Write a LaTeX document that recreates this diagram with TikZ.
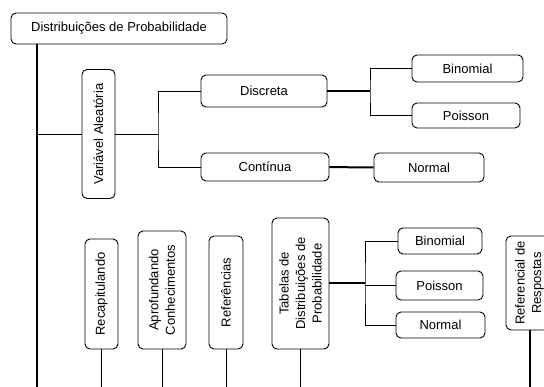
\documentclass[tikz,border=0pt]{standalone}
\usepackage{fontspec}
\setmainfont{Liberation Sans}
\usepackage{tikz}

\begin{document}
\begin{tikzpicture}[x=1pt,y=-1pt,line width=0.9pt,font=\fontsize{13}{16.5}\selectfont]
                  \tikzstyle{box}=[draw,rounded corners=5pt,inner sep=0pt,align=center]
                  \tikzstyle{vbox}=[box,rotate=90]
                  \tikzstyle{bold}=[line width=2pt]
                  \useasboundingbox (0,0) rectangle (544,387);

                  \node[box,minimum width=216pt,minimum height=31pt]  (dist)  at (119,28.5)   {Distribuições de Probabilidade};
                  \node[vbox,minimum width=129pt,minimum height=33pt] (va)    at (98.5,134)   {Variável Aleatória};
                  \node[box,minimum width=126pt,minimum height=32pt]  (disc)  at (264,91)     {Discreta};
                  \node[box,minimum width=128pt,minimum height=28pt]  (cont)  at (265,167)    {Contínua};
                  \node[box,minimum width=111pt,minimum height=27pt]  (bin)   at (467.5,68.5) {Binomial};
                  \node[box,minimum width=108pt,minimum height=25pt]  (poi)   at (466,115.5)  {Poisson};
                  \node[box,minimum width=110pt,minimum height=29pt]  (nor)   at (429,167.5)  {Normal};

                  \node[vbox,minimum width=110pt,minimum height=33pt] (recap) at (101.5,294)  {Recapitulando};
                  \node[vbox,minimum width=118pt,minimum height=48pt] (aprof) at (162,290)    {Aprofundando\\Conhecimentos};
                  \node[vbox,minimum width=113pt,minimum height=34pt] (refs)  at (226,292.5)  {Referências};
                  \node[vbox,minimum width=131pt,minimum height=57pt] (tab)   at (300.5,283.5) {Tabelas de\\Distribuições de\\Probabilidade};
                  \node[box,minimum width=84pt,minimum height=26pt]   (tbin)  at (440,241)    {Binomial};
                  \node[box,minimum width=87pt,minimum height=29pt]   (tpoi)  at (439.5,285.5) {Poisson};
                  \node[box,minimum width=89pt,minimum height=26pt]   (tnor)  at (440.5,325)  {Normal};
                  \node[vbox,minimum width=94pt,minimum height=47pt]  (resp)  at (529.5,283)  {Referencial de\\Respostas};

                  \coordinate (trunk) at (37,395);
                  \coordinate (j1) at (158,134);
                  \coordinate (j2) at (370,91);
                  \coordinate (j3) at (365,283.5);

                  \draw[bold] (dist.south -| trunk) -- (trunk);
                  \draw (va -| trunk) -- (va);
                  \draw (va) -- (j1);
                  \draw (disc) -| (j1) |- (cont);
                  \draw[bold] (disc) -- (j2);
                  \draw (bin) -| (j2) |- (poi);
                  \draw[bold] (cont) -- (nor);

                  \draw[bold] (tab) -- (j3);
                  \draw (tbin) -| (j3) |- (tnor);
                  \draw (tpoi) -- (tpoi -| j3);
                  \foreach \n in {recap,aprof,refs,tab}
                        \draw (\n) -- (\n |- trunk);
                  \draw[bold] (resp) -- (resp |- trunk);
                \end{tikzpicture}
\end{document}
